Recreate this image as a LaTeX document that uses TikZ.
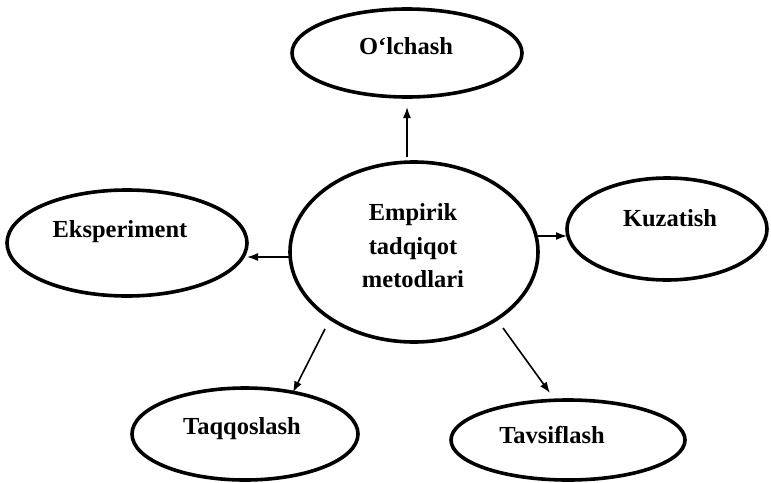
\documentclass[tikz,border=0pt]{standalone}
\usepackage{fontspec}
\setmainfont{Liberation Serif}
\usetikzlibrary{arrows.meta,shapes.geometric,calc}
\begin{document}
\begin{tikzpicture}[x=1pt,y=-1pt,
  oval/.style={ellipse, draw=black, line width=3.6pt, inner sep=0pt, outer sep=0pt},
  lbl/.style={font=\fontsize{24.5}{33.5}\selectfont\bfseries, inner sep=0pt, anchor=base},
  arr/.style={line width=1.6pt, -{Latex[length=11pt,width=8pt]}}]
\useasboundingbox (0,0) rectangle (771,482);
% ellipses
\node[oval, minimum width=248pt, minimum height=180pt] (c) at (414,252) {};
\node[oval, minimum width=230pt, minimum height=88pt] (o) at (407,53) {};
\node[oval, minimum width=240pt, minimum height=106pt] (e) at (127,243) {};
\node[oval, minimum width=200pt, minimum height=102pt] (k) at (667,229) {};
\node[oval, minimum width=226pt, minimum height=92pt] (t) at (245,434) {};
\node[oval, minimum width=234pt, minimum height=80pt] (v) at (568,440) {};
% labels
\node[lbl] (lo) at (406,54) {O‘lchash};
\node[lbl] (le) at (120,237) {Eksperiment};
\node[lbl] (lk) at (670,226) {Kuzatish};
\node[lbl] (lt) at (242,434) {Taqqoslash};
\node[lbl] (lv) at (552,443) {Tavsiflash};
\node[lbl, anchor=center, align=center] (lc) at (413,246) {Empirik\\tadqiqot\\metodlari};
% arrows
\draw[arr, shorten <=5pt, shorten >=10pt] (c.north -| o.south) -- (o.south);
\draw[arr] ([yshift=-5pt]c.west) -- ([yshift=-5pt]c.west -| e.east);
\draw[arr] ([yshift=-7pt]k.west -| c.east) -- ([yshift=-7pt]k.west);
\draw[arr] ($(c.center)+(-89,77)$) -- (t.41);
\draw[arr] ($(c.center)+(89,76)$) -- ($(v.center)+(-18,-47)$);
\end{tikzpicture}
\end{document}
